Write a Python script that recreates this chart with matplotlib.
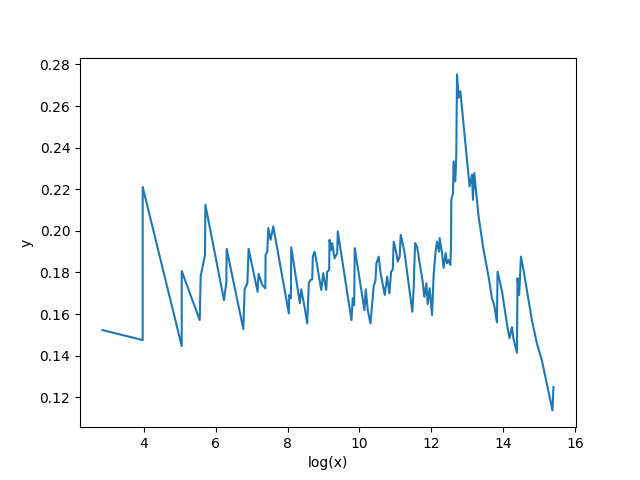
import matplotlib
matplotlib.use("Agg")
import matplotlib.pyplot as plt

# values
log_x = [
    2.853, 3.97, 3.97, 5.056, 5.056, 5.556, 5.583, 5.703, 5.714, 6.231,
    6.297, 6.306, 6.769, 6.806, 6.881, 6.917, 7.167, 7.194, 7.297, 7.381,
    7.389, 7.436, 7.464, 7.528, 7.603, 8.036, 8.047, 8.092, 8.103, 8.342,
    8.381, 8.472, 8.547, 8.592, 8.639, 8.686, 8.703, 8.75, 8.806, 8.936,
    8.992, 9.075, 9.103, 9.158, 9.167, 9.214, 9.242, 9.306, 9.381, 9.397,
    9.778, 9.814, 9.853, 9.869, 10.139, 10.175, 10.231, 10.306, 10.361, 10.397,
    10.444, 10.472, 10.536, 10.583, 10.703, 10.769, 10.833, 10.881, 10.925, 10.953,
    11.019, 11.064, 11.119, 11.147, 11.25, 11.472, 11.508, 11.547, 11.603, 11.758,
    11.806, 11.861, 11.897, 11.953, 12.019, 12.064, 12.119, 12.158, 12.214, 12.231,
    12.297, 12.342, 12.397, 12.436, 12.481, 12.528, 12.547, 12.556, 12.603, 12.619,
    12.667, 12.694, 12.714, 12.758, 12.806, 13.064, 13.131, 13.158, 13.194, 13.314,
    13.453, 13.592, 13.686, 13.75, 13.825, 13.842, 13.964, 14.103, 14.175, 14.242,
    14.286, 14.381, 14.397, 14.444, 14.492, 14.564, 14.797, 14.936, 14.986, 15.075,
    15.369, 15.397,
]
y = [
    0.1523, 0.1475, 0.2211, 0.1446, 0.1807, 0.1571, 0.1783, 0.1884, 0.2125, 0.1667,
    0.1751, 0.1913, 0.1528, 0.1720, 0.1748, 0.1913, 0.1707, 0.1793, 0.1740, 0.1724,
    0.1884, 0.1900, 0.2013, 0.1957, 0.2021, 0.1603, 0.1692, 0.1676, 0.1921, 0.1652,
    0.1719, 0.1635, 0.1555, 0.1751, 0.1764, 0.1767, 0.1876, 0.1900, 0.1852, 0.1716,
    0.1796, 0.1716, 0.1804, 0.1812, 0.1957, 0.1908, 0.1941, 0.1868, 0.1893, 0.1997,
    0.1571, 0.1676, 0.1643, 0.1917, 0.1619, 0.1719, 0.1619, 0.1555, 0.1667, 0.1735,
    0.1759, 0.1844, 0.1876, 0.1804, 0.1692, 0.1780, 0.1700, 0.1804, 0.1812, 0.1948,
    0.1900, 0.1852, 0.1876, 0.1981, 0.1900, 0.1611, 0.1724, 0.1941, 0.1924, 0.1756,
    0.1683, 0.1748, 0.1648, 0.1724, 0.1595, 0.1788, 0.1900, 0.1948, 0.1900, 0.1965,
    0.1893, 0.1822, 0.1893, 0.1844, 0.1860, 0.1836, 0.1917, 0.2149, 0.2182, 0.2334,
    0.2238, 0.2366, 0.2752, 0.2640, 0.2671, 0.2213, 0.2270, 0.2149, 0.2278, 0.2069,
    0.1908, 0.1780, 0.1676, 0.1643, 0.1561, 0.1804, 0.1711, 0.1552, 0.1484, 0.1537,
    0.1480, 0.1414, 0.1772, 0.1692, 0.1876, 0.1812, 0.1571, 0.1459, 0.1431, 0.1378,
    0.1137, 0.1250,
]

plt.figure(figsize=(6.4, 4.8), dpi=100)
plt.plot(log_x, y)
plt.xlabel("log(x)")
plt.ylabel("y")
plt.savefig("out.png")
